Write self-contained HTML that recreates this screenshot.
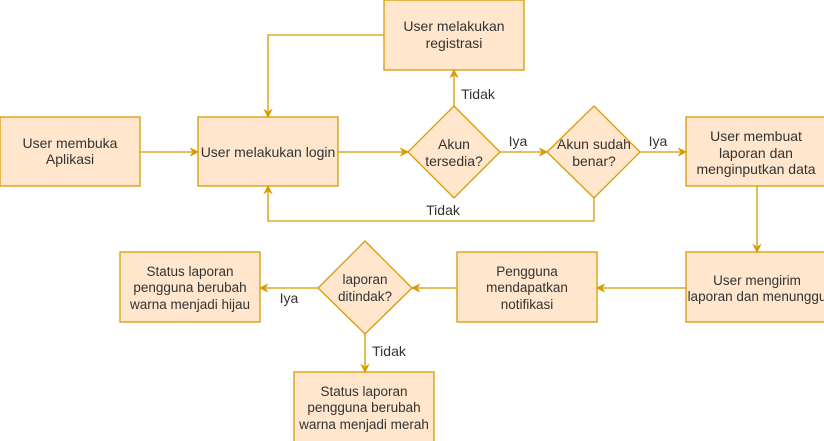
<!DOCTYPE html>
<html><head><meta charset="utf-8"><style>
html,body{margin:0;padding:0;background:#fff;}
svg{display:block;}
text{font-family:"Liberation Sans",sans-serif;font-size:14px;fill:#333;text-anchor:middle;}
.s{font-size:13.5px;}
.b{fill:#ffe6cc;stroke:#d79b00;stroke-width:1.3;}
.l{fill:none;stroke:#d79b00;stroke-width:1.3;}
.a{fill:#d79b00;stroke:#d79b00;}
</style></head><body>
<svg width="824" height="441" viewBox="0 0 824 441" xmlns="http://www.w3.org/2000/svg">
<path class="l" d="M140 152 H192"/><path class="a" d="M198 152 l-7 -3.5 l2 3.5 l-2 3.5z"/>
<path class="l" d="M384 35 H268 V111"/><path class="a" d="M268 117 l-3.5 -7 l3.5 2 l3.5 -2z"/>
<path class="l" d="M338 152 H402"/><path class="a" d="M408 152 l-7 -3.5 l2 3.5 l-2 3.5z"/>
<path class="l" d="M454 106 V76"/><path class="a" d="M454 70 l-3.5 7 l3.5 -2 l3.5 2z"/>
<path class="l" d="M500 152 H541"/><path class="a" d="M547 152 l-7 -3.5 l2 3.5 l-2 3.5z"/>
<path class="l" d="M640 152 H680"/><path class="a" d="M686 152 l-7 -3.5 l2 3.5 l-2 3.5z"/>
<path class="l" d="M594 198 V221 H268 V192"/><path class="a" d="M268 186 l-3.5 7 l3.5 -2 l3.5 2z"/>
<path class="l" d="M757 186 V246"/><path class="a" d="M757 252 l-3.5 -7 l3.5 2 l3.5 -2z"/>
<path class="l" d="M686 288 H603"/><path class="a" d="M597 288 l7 -3.5 l-2 3.5 l2 3.5z"/>
<path class="l" d="M457 288 H418"/><path class="a" d="M412 288 l7 -3.5 l-2 3.5 l2 3.5z"/>
<path class="l" d="M318 288 H266"/><path class="a" d="M260 288 l7 -3.5 l-2 3.5 l2 3.5z"/>
<path class="l" d="M365 334 V366"/><path class="a" d="M365 372 l-3.5 -7 l3.5 2 l3.5 -2z"/>
<rect class="b" x="0" y="117" width="140" height="69"/>
<text x="70" y="148">User membuka</text><text x="70" y="164">Aplikasi</text>
<rect class="b" x="198" y="117" width="140" height="69"/>
<text x="268" y="157">User melakukan login</text>
<rect class="b" x="384" y="0" width="140" height="70"/>
<text x="454" y="31">User melakukan</text><text x="454" y="48">registrasi</text>
<path class="b" d="M454 106 L500 152 L454 198 L408 152z"/>
<text x="454" y="149">Akun</text><text x="454" y="166">tersedia?</text>
<path class="b" d="M594 106 L640 152 L594 198 L547 152z"/>
<text x="594" y="149">Akun sudah</text><text x="594" y="166">benar?</text>
<rect class="b" x="686" y="117" width="150" height="69"/>
<text x="756" y="141">User membuat</text><text x="756" y="158">laporan dan</text><text x="756" y="174">menginputkan data</text>
<rect class="b" x="686" y="252" width="150" height="70"/>
<text class="s" x="757" y="285">User mengirim</text><text class="s" x="757" y="301">laporan dan menunggu</text>
<rect class="b" x="457" y="252" width="140" height="70"/>
<text class="s" x="527" y="276">Pengguna</text><text class="s" x="527" y="292">mendapatkan</text><text class="s" x="527" y="309">notifikasi</text>
<path class="b" d="M365 241 L412 288 L365 334 L318 288z"/>
<text class="s" x="365" y="284">laporan</text><text class="s" x="365" y="301">ditindak?</text>
<rect class="b" x="120" y="252" width="140" height="70"/>
<text class="s" x="190" y="276">Status laporan</text><text class="s" x="190" y="292">pengguna berubah</text><text class="s" x="190" y="309">warna menjadi hijau</text>
<rect class="b" x="294" y="372" width="140" height="75"/>
<text class="s" x="364" y="396">Status laporan</text><text class="s" x="364" y="412">pengguna berubah</text><text class="s" x="364" y="429">warna menjadi merah</text>
<text x="478" y="99">Tidak</text>
<text x="518" y="146">Iya</text>
<text x="658" y="146">Iya</text>
<text x="443" y="215">Tidak</text>
<text x="289" y="303">Iya</text>
<text x="389" y="356">Tidak</text>
</svg>
</body></html>
